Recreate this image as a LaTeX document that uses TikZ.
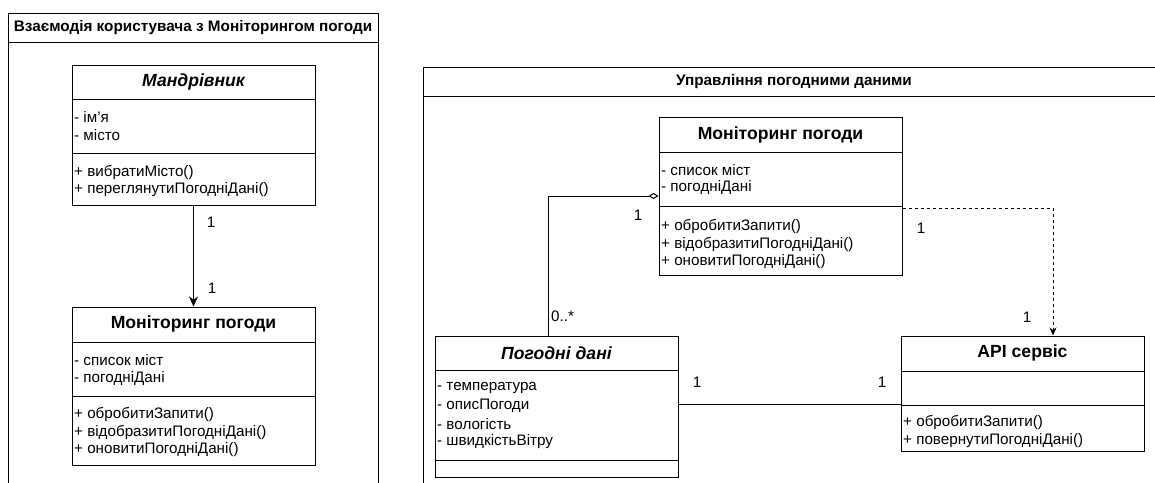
\documentclass[tikz,border=0pt]{standalone}
\usepackage{fontspec}
\setmainfont{Liberation Sans}
\usetikzlibrary{arrows.meta,calc}

\tikzset{
  frame/.style={draw=black, line width=1pt},
  ftitle/.style={font=\fontsize{15.3}{17}\selectfont\bfseries, inner sep=0pt},
  classbox/.style={draw=black, line width=1pt, rectangle, inner sep=0pt},
  divider/.style={draw=black, line width=1pt},
  cname/.style={font=\fontsize{17.6}{20}\selectfont\bfseries, inner sep=0pt},
  cnameit/.style={font=\fontsize{17.6}{20}\selectfont\bfseries\itshape, inner sep=0pt},
  member/.style={font=\fontsize{15.2}{17}\selectfont, anchor=west, inner sep=0pt},
  mult/.style={font=\fontsize{15.2}{17}\selectfont, inner sep=0pt},
  assoc/.style={draw=black, line width=1pt},
  navarrow/.style={draw=black, line width=1pt, -{Stealth[length=10pt,width=9pt]}},
  agg/.style={draw=black, line width=1pt, -{Diamond[open,length=10pt,width=6pt]}},
  dep/.style={draw=black, line width=1pt, dash pattern=on 3pt off 3pt,
              -{Stealth[length=8pt,width=7pt]}},
}

\begin{document}
\begin{tikzpicture}[x=1pt, y=-1pt]
\useasboundingbox (0,0) rectangle (1155,482);
\clip (0,0) rectangle (1155,482);
\fill[white] (0,0) rectangle (1155,482);

% ---------- left swimlane ----------
\draw[frame] (8,13) rectangle (378,520);
\draw[frame] (8,42) -- (378,42);
\node[ftitle] (ltitle) at (193,27.5) {Взаємодія користувача з Моніторингом погоди};

% Мандрівник
\node[classbox, minimum width=243pt, minimum height=140pt] (trav) at (193.5,135) {};
\draw[divider] (72,99) -- (315,99);
\draw[divider] (72,153) -- (315,153);
\node[cnameit] (travn) at (193.5,82) {Мандрівник};
\node[member] (t1) at (74,117) {- ім\char39 я};
\node[member] (t2) at (74,135) {- місто};
\node[member] (t3) at (74,172) {+ вибратиМісто()};
\node[member] (t4) at (74,190) {+ переглянутиПогодніДані()};

% Моніторинг погоди (left)
\node[classbox, minimum width=243pt, minimum height=158pt] (monL) at (193.5,386) {};
\draw[divider] (72,342) -- (315,342);
\draw[divider] (72,396) -- (315,396);
\node[cname] (monLn) at (193.5,324) {Моніторинг погоди};
\node[member] (l1) at (74,360) {- список міст};
\node[member] (l2) at (74,378) {- погодніДані};
\node[member] (l3) at (74,414) {+ обробитиЗапити()};
\node[member] (l4) at (74,432) {+ відобразитиПогодніДані()};
\node[member] (l5) at (74,450) {+ оновитиПогодніДані()};

\draw[navarrow] (trav.south) -- (monL.north);
\node[mult] (m1) at (211,222) {1};
\node[mult] (m2) at (212,288) {1};

% ---------- right swimlane ----------
\draw[frame] (423,67) rectangle (1200,520);
\draw[frame] (423,96) -- (1200,96);
\node[ftitle] (rtitle) at (794,82) {Управління погодними даними};

% Моніторинг погоди (right)
\node[classbox, minimum width=243pt, minimum height=158pt] (monR) at (780.5,196) {};
\draw[divider] (659,152) -- (902,152);
\draw[divider] (659,206) -- (902,206);
\node[cname] (monRn) at (780.5,135) {Моніторинг погоди};
\node[member] (r1) at (661,170) {- список міст};
\node[member] (r2) at (661,188) {- погодніДані};
\node[member] (r3) at (661,226) {+ обробитиЗапити()};
\node[member] (r4) at (661,244) {+ відобразитиПогодніДані()};
\node[member] (r5) at (661,262) {+ оновитиПогодніДані()};

% Погодні дані
\node[classbox, minimum width=243pt, minimum height=141pt] (wd) at (556.5,406.5) {};
\draw[divider] (435,370) -- (678,370);
\draw[divider] (435,460) -- (678,460);
\node[cnameit] (wdn) at (556.5,353) {Погодні дані};
\node[member] (w1) at (437,388) {- температура};
\node[member] (w2) at (437,406) {- описПогоди};
\node[member] (w3) at (437,424) {- вологість};
\node[member] (w4) at (437,442) {- швидкістьВітру};

% API сервіс
\node[classbox, minimum width=243pt, minimum height=115pt] (api) at (1022.5,393.5) {};
\draw[divider] (901,371) -- (1144,371);
\draw[divider] (901,405) -- (1144,405);
\node[cname] (apin) at (1022.5,353) {API сервіс};
\node[member] (a1) at (903,422) {+ обробитиЗапити()};
\node[member] (a2) at (903,441) {+ повернутиПогодніДані()};

% aggregation: Моніторинг погоди <>-- Погодні дані
\draw[agg] ([xshift=-8.5pt]wd.north) |- (monR.west);
\node[mult] (g1) at (638,215) {1};
\node[mult, anchor=west] (g2) at (551,316) {0..*};

% dependency: Моніторинг погоди --> API сервіс
\draw[dep] ([yshift=-12pt]monR.east) -| ([xshift=30.5pt]api.north);
\node[mult] (d1) at (921,228) {1};
\node[mult] (d2) at (1027,317) {1};

% association: Погодні дані -- API сервіс
\coordinate (wdA) at ([yshift=2.5pt]wd.east);
\draw[assoc] (wdA) -- (wdA -| api.west);
\node[mult] (s1) at (697,382) {1};
\node[mult] (s2) at (882,382) {1};
\end{tikzpicture}
\end{document}
